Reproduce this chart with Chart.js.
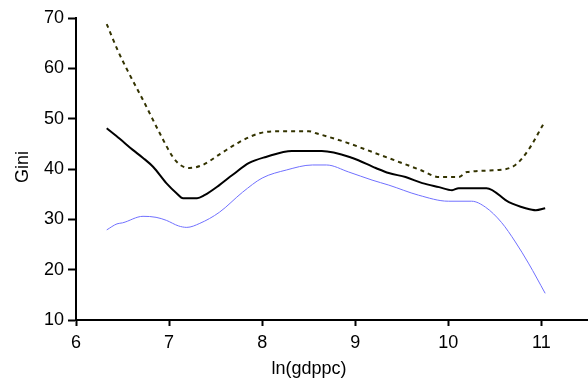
<!DOCTYPE html>
<html><head><meta charset="utf-8">
<script src="https://cdn.jsdelivr.net/npm/chart.js@4/dist/chart.umd.min.js"></script>
<style>html,body{margin:0;padding:0;background:#fff}#wrap{width:588px;height:381px}</style>
</head><body><div id="wrap"><canvas id="c" width="588" height="381"></canvas></div>
<script>
const upperX = [6.33,6.45,6.55,6.72,6.9,7.04,7.12,7.22,7.36,7.55,7.75,7.97,8.16,8.5,8.58,8.9,9.18,9.47,9.7,9.9,10.11,10.2,10.54,10.72,10.86,11.02];
const upperY = [68.8,63.5,59.7,53.7,47.1,42.4,40.8,40.2,40.8,43.0,45.3,47.1,47.5,47.5,47.1,45.3,43.4,41.4,39.8,38.4,38.4,39.4,39.8,40.8,43.8,48.9];
const midX = [6.33,6.47,6.61,6.72,6.83,6.97,7.08,7.15,7.3,7.38,7.54,7.68,7.86,8.04,8.32,8.64,8.97,9.22,9.36,9.54,9.72,9.9,10.04,10.11,10.41,10.65,10.83,10.94,11.04];
const midY = [48.1,46.0,43.8,42.2,40.4,37.2,35.2,34.2,34.2,34.8,36.8,38.8,41.2,42.4,43.6,43.6,42.2,40.2,39.2,38.4,37.2,36.4,35.8,36.2,36.2,33.4,32.2,31.8,32.2];
const lowX = [6.33,6.44,6.5,6.72,6.86,6.97,7.1,7.19,7.33,7.54,7.79,8.0,8.26,8.54,8.69,8.93,9.18,9.36,9.68,10.0,10.25,10.4,10.57,10.72,10.86,11.04];
const lowY = [27.9,29.1,29.3,30.6,30.4,29.8,28.7,28.4,29.2,31.4,35.4,38.2,39.8,40.8,40.8,39.4,37.8,36.8,34.8,33.6,33.6,32.4,29.4,25.5,21.3,15.3];
const xTicks = [6,7,8,9,10,11];
const yTicks = [10,20,30,40,50,60,70];
const xTitle = 'ln(gdppc)';
const yTitle = 'Gini';

const pts = (xs, ys) => xs.map((x, i) => ({x, y: ys[i]}));
const FONT = '"Liberation Sans", Arial, sans-serif';

const titlePlugin = {
  id: 'axisTitles',
  afterDraw(chart) {
    const ctx = chart.ctx;
    ctx.save();
    ctx.fillStyle = '#000';
    ctx.font = '18px ' + FONT;
    ctx.textAlign = 'center';
    ctx.textBaseline = 'middle';
    ctx.fillText(xTitle, 309, 369);
    ctx.translate(23, 167);
    ctx.rotate(-Math.PI / 2);
    ctx.fillText(yTitle, 0, 0);
    ctx.restore();
  }
};

const ds = (xs, ys, color, width, dash) => ({
  data: pts(xs, ys), borderColor: color, borderWidth: width, borderDash: dash || [],
  pointRadius: 0, cubicInterpolationMode: 'monotone', fill: false
});

new Chart(document.getElementById('c'), {
  type: 'line',
  data: {
    datasets: [
      ds(upperX, upperY, '#333300', 2, [4, 4]),
      ds(midX, midY, '#000000', 2),
      ds(lowX, lowY, '#7070ff', 1)
    ]
  },
  options: {
    responsive: false,
    animation: false,
    layout: {padding: {top: 18, right: 0, left: 0, bottom: 0}},
    plugins: {legend: {display: false}, tooltip: {enabled: false}},
    scales: {
      x: {
        type: 'linear', min: 6, max: 11.5,
        afterBuildTicks: s => { s.ticks = xTicks.map(v => ({value: v})); },
        afterFit: s => { s.height = 61; },
        border: {color: '#000', width: 2},
        grid: {drawOnChartArea: false, tickLength: 6, color: '#000', tickWidth: 2},
        ticks: {color: '#000', font: {family: FONT, size: 18}, padding: 6, maxRotation: 0}
      },
      y: {
        type: 'linear', min: 10, max: 70,
        afterBuildTicks: s => { s.ticks = yTicks.map(v => ({value: v})); },
        afterFit: s => { s.width = 76; },
        border: {color: '#000', width: 2},
        grid: {drawOnChartArea: false, tickLength: 8, color: '#000', tickWidth: 2},
        ticks: {color: '#000', font: {family: FONT, size: 18}, padding: 4}
      }
    }
  },
  plugins: [titlePlugin]
});
</script></body></html>
